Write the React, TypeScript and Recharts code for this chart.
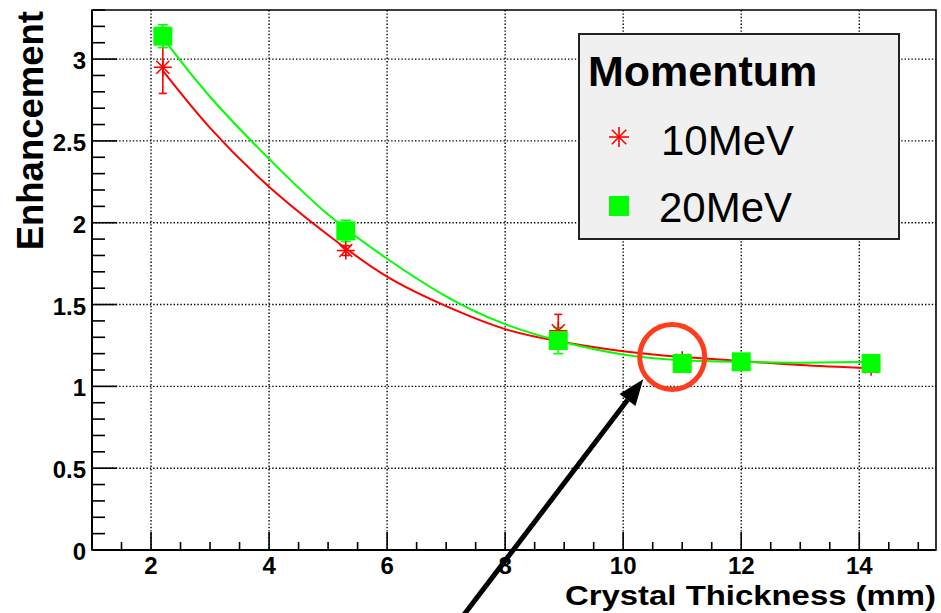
// Enhancement vs Crystal Thickness — estilo ROOT con Recharts

import {
  ComposedChart,
  Line,
  Scatter,
  XAxis,
  YAxis,
  CartesianGrid,
  ErrorBar,
  ReferenceArea,
  ReferenceDot,
  ReferenceLine,
  Legend,
} from 'recharts'

// ─── Datos ───────────────────────────────────────────────────────────────────

const thickness = [2.2, 5.3, 8.9, 11, 12, 14.2]
const enh10 = [2.95, 1.83, 1.34, 1.16, 1.15, 1.12]
const err10 = [0.16, 0.03, 0.1, 0.03, 0.03, 0.03]
const enh20 = [3.14, 1.95, 1.28, 1.14, 1.15, 1.14]
const err20 = [0.07, 0.065, 0.08, 0.03, 0.03, 0.03]

// curvas de ajuste (muestras)
const fitX = [2.2, 3, 4, 5, 6, 7, 8, 9, 10, 11, 12, 13, 14.2]
const fit10 = [2.93, 2.58, 2.22, 1.925, 1.67, 1.49, 1.35, 1.27, 1.215, 1.18, 1.155, 1.13, 1.11]
const fit20 = [3.13, 2.77, 2.39, 2.05, 1.78, 1.55, 1.38, 1.27, 1.195, 1.16, 1.15, 1.145, 1.15]

const series = ['10MeV', '20MeV']

// ejes
const xDomain = [1, 15.3]
const yDomain = [0, 3.3]
const xMajor = [2, 4, 6, 8, 10, 12, 14]
const yMajor = [0, 0.5, 1, 1.5, 2, 2.5, 3]
const xTicks = Array.from({ length: 28 }, (_, i) => 1.5 + i * 0.5)
const yTicks = Array.from({ length: 34 }, (_, i) => i / 10)

// anotaciones (círculo y flecha)
const circleAt = { x: 10.83, y: 1.18 }
const arrowFrom = { x: 7.25, y: -0.42 }
const arrowTo = { x: 10.34, y: 1.043 }

const RED = '#ff0000'
const GREEN = '#00ff00'
const FONT = '"Liberation Sans", Arial, Helvetica, sans-serif'

const pts10 = thickness.map((x, i) => ({ x, y: enh10[i], err: err10[i] }))
const pts20 = thickness.map((x, i) => ({ x, y: enh20[i], err: err20[i] }))
const line10 = fitX.map((x, i) => ({ x, y: fit10[i] }))
const line20 = fitX.map((x, i) => ({ x, y: fit20[i] }))

// ─── Marcadores ──────────────────────────────────────────────────────────────

function Star({ cx, cy, size = 9 }: { cx: number; cy: number; size?: number }) {
  const d = size * 0.72
  return (
    <g stroke={RED} strokeWidth={1.6}>
      <line x1={cx - size} x2={cx + size} y1={cy} y2={cy} />
      <line x1={cx} x2={cx} y1={cy - size} y2={cy + size} />
      <line x1={cx - d} y1={cy - d} x2={cx + d} y2={cy + d} />
      <line x1={cx - d} y1={cy + d} x2={cx + d} y2={cy - d} />
    </g>
  )
}

function Square({ cx, cy, size = 19 }: { cx: number; cy: number; size?: number }) {
  return <rect x={cx - size / 2} y={cy - size / 2} width={size} height={size} fill={GREEN} />
}

// ─── Ticks hacia dentro (estilo ROOT) ────────────────────────────────────────

function YTick(props: any) {
  const { x, y, payload } = props
  const v = payload.value
  const major = Math.round(v * 10) % 5 === 0
  const x0 = x + 6
  return (
    <g>
      <line x1={x0} x2={x0 + (major ? 25 : 13)} y1={y} y2={y} stroke="#000" strokeWidth={1.6} />
      {major && (
        <text x={x} y={y + 10} textAnchor="end" fontFamily={FONT} fontWeight="bold" fontSize={24} fill="#000">
          {String(v)}
        </text>
      )}
    </g>
  )
}

function XTick(props: any) {
  const { x, y, payload } = props
  const v = payload.value
  const major = xMajor.includes(v)
  return (
    <g>
      <line x1={x} x2={x} y1={y} y2={y - (major ? 18 : 8)} stroke="#000" strokeWidth={1.6} />
      {major && (
        <text x={x} y={y + 24} textAnchor="middle" fontFamily={FONT} fontWeight="bold" fontSize={24} fill="#000">
          {String(v)}
        </text>
      )}
    </g>
  )
}

// ─── Flecha ──────────────────────────────────────────────────────────────────

function Arrow(props: any) {
  const { x1, y1, x2, y2 } = props
  const ang = Math.atan2(y2 - y1, x2 - x1)
  const L = 26
  const W = 10
  const bx = x2 - L * Math.cos(ang)
  const by = y2 - L * Math.sin(ang)
  const px = -Math.sin(ang)
  const py = Math.cos(ang)
  return (
    <g>
      <line x1={x1} y1={y1} x2={bx} y2={by} stroke="#000" strokeWidth={5} />
      <polygon
        points={`${x2},${y2} ${bx + W * px},${by + W * py} ${bx - W * px},${by - W * py}`}
        fill="#000"
      />
    </g>
  )
}

// ─── Leyenda ─────────────────────────────────────────────────────────────────

function LegendBox() {
  return (
    <svg width={322} height={207} style={{ display: 'block' }}>
      <rect x={1} y={1} width={320} height={205} fill="#f0f0f0" stroke="#222" strokeWidth={2} />
      <text x={10} y={53} fontFamily={FONT} fontWeight="bold" fontSize={43} fill="#000">
        Momentum
      </text>
      <Star cx={41} cy={104} size={10} />
      <text x={83} y={122} fontFamily={FONT} fontSize={42} fill="#000">
        {series[0]}
      </text>
      <Square cx={41} cy={173} size={20} />
      <text x={81} y={189} fontFamily={FONT} fontSize={42} fill="#000">
        {series[1]}
      </text>
    </svg>
  )
}

export default function App() {
  return (
    <div style={{ position: 'absolute', left: 0, top: 0, background: '#fff' }}>
      <ComposedChart width={941} height={613} margin={{ top: 10, right: 5, left: 0, bottom: 0 }}>
        <CartesianGrid
          horizontalValues={yMajor.slice(1)}
          verticalValues={xMajor}
          stroke="#000"
          strokeWidth={1.4}
          strokeDasharray="1.4 2"
        />
        <XAxis
          dataKey="x"
          type="number"
          domain={xDomain}
          ticks={xTicks}
          interval={0}
          height={63}
          tickSize={0}
          tickMargin={0}
          tickLine={false}
          axisLine={{ stroke: '#000', strokeWidth: 2 }}
          tick={<XTick />}
          allowDataOverflow
          label={{
            value: 'Crystal Thickness (mm)',
            content: () => (
              <text
                x={565}
                y={605}
                textLength={371}
                lengthAdjust="spacingAndGlyphs"
                fontFamily={FONT}
                fontWeight="bold"
                fontSize={27}
                fill="#000"
              >
                Crystal Thickness (mm)
              </text>
            ),
          }}
        />
        <YAxis
          dataKey="y"
          type="number"
          domain={yDomain}
          ticks={yTicks}
          interval={0}
          width={92}
          tickSize={0}
          tickMargin={6}
          tickLine={false}
          axisLine={{ stroke: '#000', strokeWidth: 2 }}
          tick={<YTick />}
          allowDataOverflow
          label={{
            value: 'Enhancement',
            content: () => (
              <text
                x={43}
                y={11}
                transform="rotate(-90 43 11)"
                textAnchor="end"
                fontFamily={FONT}
                fontWeight="bold"
                fontSize={36.5}
                fill="#000"
              >
                Enhancement
              </text>
            ),
          }}
        />
        <ReferenceArea
          x1={xDomain[0]}
          x2={xDomain[1]}
          y1={yDomain[0]}
          y2={yDomain[1]}
          fill="none"
          fillOpacity={0}
          stroke="#000"
          strokeWidth={1.6}
        />
        <Line data={line10} dataKey="y" type="natural" stroke={RED} strokeWidth={2} dot={false} isAnimationActive={false} />
        <Line data={line20} dataKey="y" type="natural" stroke={GREEN} strokeWidth={2} dot={false} isAnimationActive={false} />
        <Scatter
          name={series[0]}
          data={pts10}
          dataKey="y"
          fill={RED}
          shape={(p: any) => <Star cx={p.cx} cy={p.cy} />}
          isAnimationActive={false}
        >
          <ErrorBar dataKey="err" direction="y" width={4} stroke={RED} strokeWidth={1.6} isAnimationActive={false} />
        </Scatter>
        <Scatter
          name={series[1]}
          data={pts20}
          dataKey="y"
          fill={GREEN}
          shape={(p: any) => <Square cx={p.cx} cy={p.cy} />}
          isAnimationActive={false}
        >
          <ErrorBar dataKey="err" direction="y" width={5} stroke={GREEN} strokeWidth={1.6} isAnimationActive={false} />
        </Scatter>
        <ReferenceDot
          x={circleAt.x}
          y={circleAt.y}
          r={32.5}
          fill="none"
          stroke="#ff3c1c"
          strokeWidth={5}
          ifOverflow="visible"
        />
        <ReferenceLine
          segment={[arrowFrom, arrowTo]}
          ifOverflow="visible"
          shape={(p: any) => <Arrow {...p} />}
        />
        <Legend
          layout="vertical"
          align="center"
          verticalAlign="middle"
          wrapperStyle={{ position: 'absolute', left: 578, top: 33, width: 322, height: 207 }}
          content={() => <LegendBox />}
        />
      </ComposedChart>
    </div>
  )
}
